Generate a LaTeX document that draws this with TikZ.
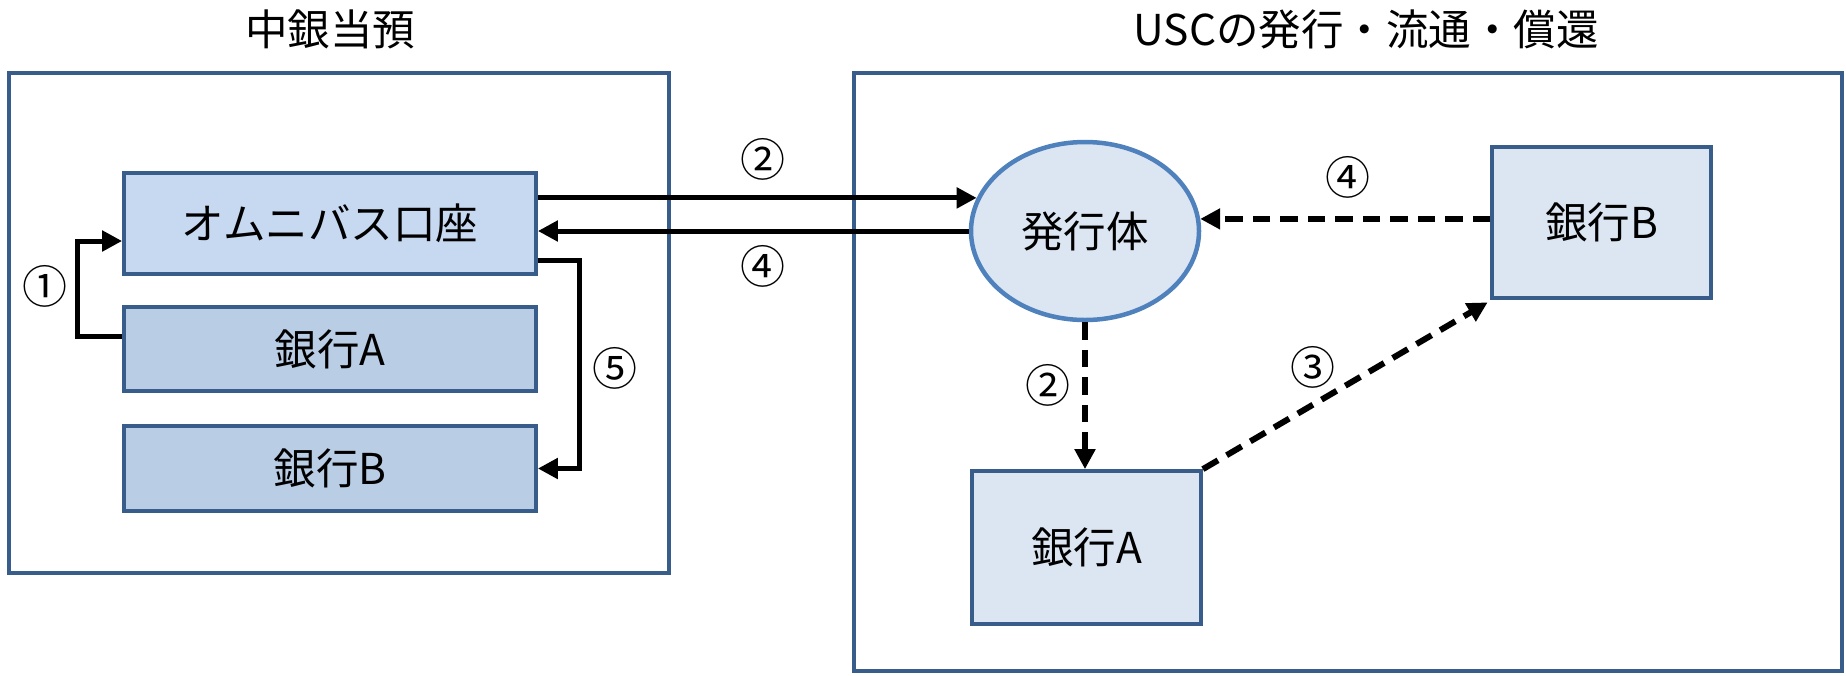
\documentclass[tikz,border=0pt]{standalone}
\usepackage{fontspec}
\setmainfont{Noto Sans CJK JP}
\usetikzlibrary{arrows.meta,shapes.geometric,calc}
\definecolor{bord}{HTML}{385D8A}
\definecolor{ellb}{HTML}{4F81BD}
\definecolor{omnif}{HTML}{C6D9F1}
\definecolor{bankf}{HTML}{B9CDE5}
\definecolor{lightf}{HTML}{DCE6F2}
\begin{document}
\begin{tikzpicture}[x=0.4pt,y=-0.4pt,
  every node/.style={font=\fontsize{17pt}{20pt}\selectfont, inner sep=0pt},
  outerbox/.style={draw=bord, line width=1.5pt, fill=white},
  lbox/.style={draw=bord, line width=1.5pt, minimum width=164.8pt},
  rbox/.style={draw=bord, line width=1.5pt, fill=lightf},
  conn/.style={line width=2pt, -{Triangle[length=8pt,width=8pt]}},
  dconn/.style={line width=2.4pt, dash pattern=on 7pt off 4pt, -{Triangle[length=8pt,width=8pt]}},
  lab/.style={font=\fontsize{18pt}{20pt}\selectfont}]
\useasboundingbox (0,0) rectangle (1846,675);
% titles
\node (t1) at (330,29) {中銀当預};
\node (t2) at (1366,29) {USCの発行・流通・償還};
% outer boxes
\node[outerbox, minimum width=264pt, minimum height=200pt] (lout) at (339,323) {};
\node[outerbox, minimum width=395.2pt, minimum height=239.2pt] (rout) at (1348,372) {};
% left boxes
\node[lbox, fill=omnif, minimum height=40.4pt] (omni) at (330,223.5) {オムニバス口座};
\node[lbox, fill=bankf, minimum height=33.6pt] (bankAL) at (330,349) {銀行A};
\node[lbox, fill=bankf, minimum height=34pt] (bankBL) at (330,468.5) {銀行B};
% right nodes
\node[ellipse, draw=ellb, line width=1.8pt, fill=lightf, minimum width=91.2pt, minimum height=71.2pt] (ell) at (1085,231) {発行体};
\node[rbox, minimum width=87.6pt, minimum height=60.4pt] (bankBR) at (1601.5,222.5) {銀行B};
\node[rbox, minimum width=91.6pt, minimum height=61.2pt] (bankAR) at (1086.5,547.5) {銀行A};
% left connectors
\draw[conn] ([yshift=5pt]bankAL.west) -- ++(-18pt,0) |- ([yshift=-7pt]omni.west);
\draw[conn] ([yshift=-14.6pt]omni.east) -- ++(16.5pt,0) |- (bankBL.east);
\draw[conn] (omni.east |- ell.163) -- (ell.163);
\draw[conn] (ell.west) -- (omni.east |- ell.west);
% right connectors
\draw[dconn] (bankBR.west |- ell.6.6) -- (ell.6.6);
\draw[dconn] (ell.south) -- (ell.south |- bankAR.north);
\draw[dconn] (bankAR.north east) -- ([xshift=-1pt,yshift=-1pt]bankBR.south west);
% labels
\node[lab] (l1) at (45,286) {①};
\node[lab] (l2a) at (763,159) {②};
\node[lab] (l4a) at (763,266) {④};
\node[lab] (l5) at (615,368) {⑤};
\node[lab] (l4b) at (1348,177) {④};
\node[lab] (l2b) at (1048,385) {②};
\node[lab] (l3) at (1313,367) {③};
\end{tikzpicture}
\end{document}
